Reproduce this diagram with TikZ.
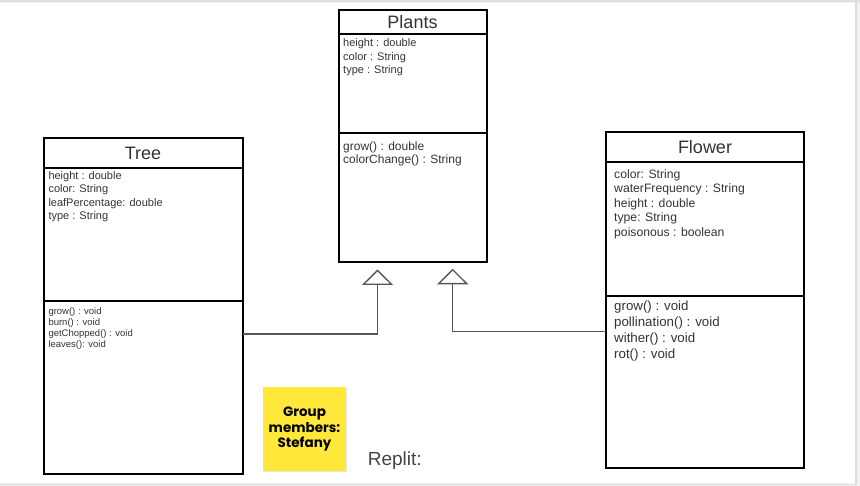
\documentclass[tikz,border=0pt]{standalone}
\usepackage{fontspec}
\setmainfont{Liberation Sans}
\newfontfamily\notefont{Poppins}
\usetikzlibrary{positioning, arrows.meta, shadows}

\definecolor{boxtext}{HTML}{333333}
\definecolor{linkgray}{HTML}{555555}
\definecolor{noteyellow}{HTML}{FFE83A}
\definecolor{framegray}{HTML}{DEDEE0}
\definecolor{framelight}{HTML}{F4F4F5}
\definecolor{replitgray}{HTML}{444444}

\tikzset{
  classpart/.style={draw, line width=2pt, outer sep=0pt, inner sep=0pt, text=boxtext},
  membertext/.style={anchor=north west, inner sep=0pt, align=left, text=boxtext},
  inherits/.style={draw=linkgray, line width=1.3pt, -{Triangle[open, length=15.5pt, width=31pt]}},
  notebox/.style={fill=noteyellow, minimum width=83pt, minimum height=83pt, inner sep=0pt, align=center,
    font=\notefont\bfseries\fontsize{13.5}{15.5}\selectfont,
    drop shadow={opacity=0.2, shadow xshift=0.8pt, shadow yshift=-1pt}},
}

\begin{document}
\begin{tikzpicture}[x=1pt, y=-1pt]

    \useasboundingbox (0,0) rectangle (860,486);
    \fill[framelight] (857,0) rectangle (860,486) (0,485) rectangle (860,486);
    \fill[framegray] (0,0) rectangle (860,2.5) (855,0) rectangle (857,485) (0,483.5) rectangle (857,485);

    % Plants
    \node(plants)[classpart, minimum width=148pt, minimum height=24pt, font=\fontsize{18}{20}\selectfont] at (412.5,22.5){Plants};
    \node(plantsattr)[classpart, minimum width=148pt, minimum height=98.5pt, below=0pt of plants]{};
    \node(plantsops)[classpart, minimum width=148pt, minimum height=129.5pt, below=0pt of plantsattr]{};
    \node(plantsvars)[membertext, font=\fontsize{11}{13.5}\selectfont] at ([xshift=4.5pt, yshift=-4.2pt]plantsattr.north west)
        {height : double\\color : String\\type : String};
    \node(plantsfuncs)[membertext, font=\fontsize{12}{13}\selectfont] at ([xshift=4.5pt, yshift=-8.2pt]plantsops.north west)
        {grow() : double\\colorChange() : String};

    % Tree
    \node(tree)[classpart, minimum width=199pt, minimum height=30pt, font=\fontsize{18}{20}\selectfont] at (143,153){Tree};
    \node(treeattr)[classpart, minimum width=199pt, minimum height=133.5pt, below=0pt of tree]{};
    \node(treeops)[classpart, minimum width=199pt, minimum height=172pt, below=0pt of treeattr]{};
    \node(treevars)[membertext, font=\fontsize{11}{13.3}\selectfont] at ([xshift=4.8pt, yshift=-3.3pt]treeattr.north west)
        {height : double\\color: String\\leafPercentage: double\\type : String};
    \node(treefuncs)[membertext, font=\fontsize{9.5}{11.1}\selectfont] at ([xshift=4.8pt, yshift=-5.9pt]treeops.north west)
        {grow() : void\\burn() : void\\getChopped() : void\\leaves(): void};

    % Flower
    \node(flower)[classpart, minimum width=198pt, minimum height=30pt, font=\fontsize{18}{20}\selectfont] at (705,147.5){Flower};
    \node(flowerattr)[classpart, minimum width=198pt, minimum height=134pt, below=0pt of flower]{};
    \node(flowerops)[classpart, minimum width=198pt, minimum height=171pt, below=0pt of flowerattr]{};
    \node(flowervars)[membertext, font=\fontsize{12.2}{14.4}\selectfont] at ([xshift=8pt, yshift=-6.9pt]flowerattr.north west)
        {color: String\\waterFrequency : String\\height : double\\type: String\\poisonous : boolean};
    \node(flowerfuncs)[membertext, font=\fontsize{13.3}{16}\selectfont] at ([xshift=8pt, yshift=-3.8pt]flowerops.north west)
        {grow() : void\\pollination() : void\\wither() : void\\rot() : void};

    % inheritance
    \draw[inherits] ([yshift=-32.5pt]treeops.north east) -| ([xshift=-35pt, yshift=-7pt]plantsops.south);
    \draw[inherits] ([yshift=-35.2pt]flowerops.north west) -| ([xshift=40.2pt, yshift=-6.3pt]plantsops.south);

    % note
    \node(members)[notebox] at (304.5,429){Group\\members:\\Stefany};
    \node(replit)[anchor=base west, inner sep=0pt, text=replitgray, font=\fontsize{19}{22}\selectfont] at (367.7,465){Replit:};

\end{tikzpicture}
\end{document}
